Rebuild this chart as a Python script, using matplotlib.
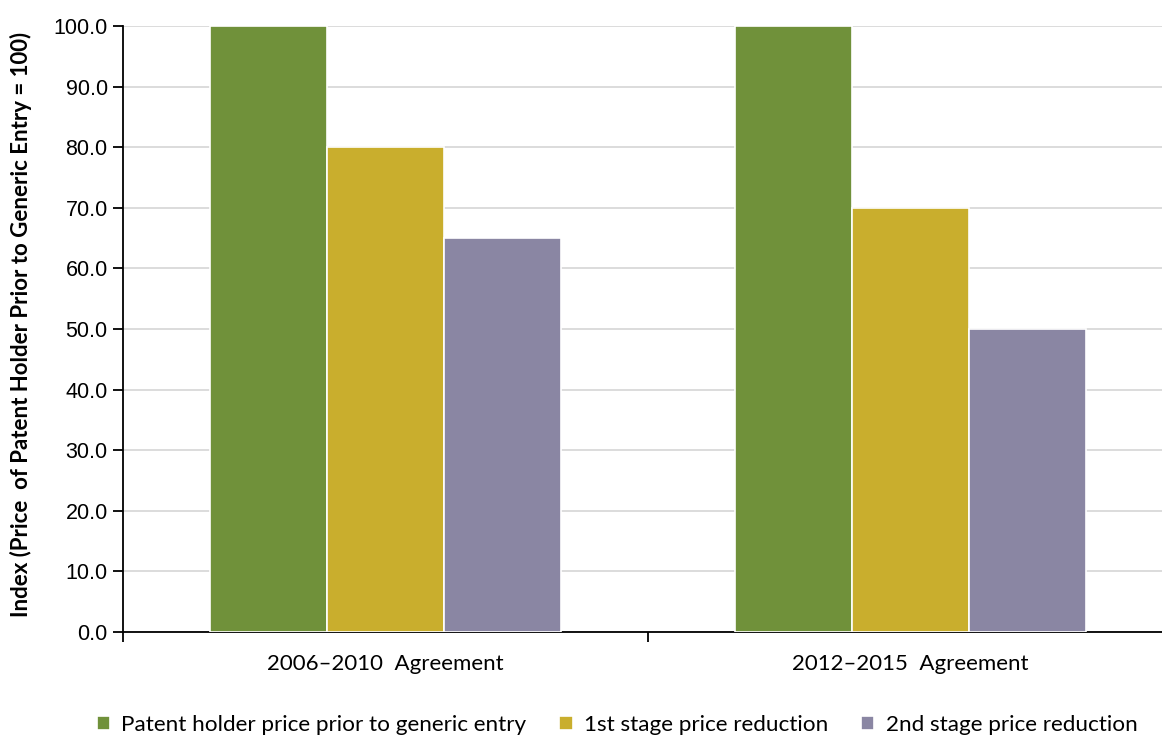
import matplotlib
matplotlib.use("Agg")
import matplotlib.pyplot as plt
import numpy as np

categories = ["2006\u20132010  Agreement", "2012\u20132015  Agreement"]
series_names = ["Patent holder price prior to generic entry",
                "1st stage price reduction",
                "2nd stage price reduction"]
patent_holder = [100.0, 100.0]
stage1 = [80.0, 70.0]
stage2 = [65.0, 50.0]
colors = ["#70913A", "#C9AE2D", "#8A86A3"]
y_ticks = np.arange(0, 101, 10)

fig = plt.figure(figsize=(11.62, 7.4), dpi=100)
ax = fig.add_axes([123 / 1162, 108 / 740, 1050 / 1162, 606 / 740])

x = np.arange(len(categories))
w = 0.223
for i, (vals, name, c) in enumerate(zip([patent_holder, stage1, stage2], series_names, colors)):
    ax.bar(x + (i - 1) * w, vals, width=w, color=c, edgecolor="white", linewidth=1.2,
           label=name, zorder=3)

ax.set_xlim(-0.5, 1.5)
ax.set_ylim(0, 100)
ax.set_yticks(y_ticks)
ax.set_yticklabels([f"{v:.1f}" for v in y_ticks], fontsize=15.5, family="Liberation Sans")
ax.yaxis.grid(True, color="#D9D9D9", linewidth=1.3, zorder=0)
ax.set_axisbelow(True)

ax.set_xticks([-0.5, 0.5, 1.5])
ax.set_xticklabels([])
ax.set_xticks(x, minor=True)
ax.set_xticklabels(categories, minor=True, fontsize=16, family="Lato")
ax.tick_params(axis="x", which="minor", length=0, pad=16)
ax.tick_params(axis="x", which="major", length=7, width=1.3, direction="out")
ax.tick_params(axis="y", length=7, width=1.3, direction="out", pad=4)

for s in ["top", "right"]:
    ax.spines[s].set_visible(False)
for s in ["left", "bottom"]:
    ax.spines[s].set_linewidth(1.3)
    ax.spines[s].set_color("#000000")

ax.set_ylabel("Index (Price  of Patent Holder Prior to Generic Entry = 100)",
              fontsize=16, fontweight="bold", family="Lato")
ax.yaxis.set_label_coords(-0.0867, 0.507)

ax.legend(loc="center", bbox_to_anchor=(0.531, 15 / 740), bbox_transform=fig.transFigure,
          ncol=3, frameon=False,
          prop={"family": "Lato", "size": 16.2}, handlelength=0.6, handleheight=0.6,
          handletextpad=0.5, columnspacing=1.45)

fig.savefig("out.png", dpi=100)
